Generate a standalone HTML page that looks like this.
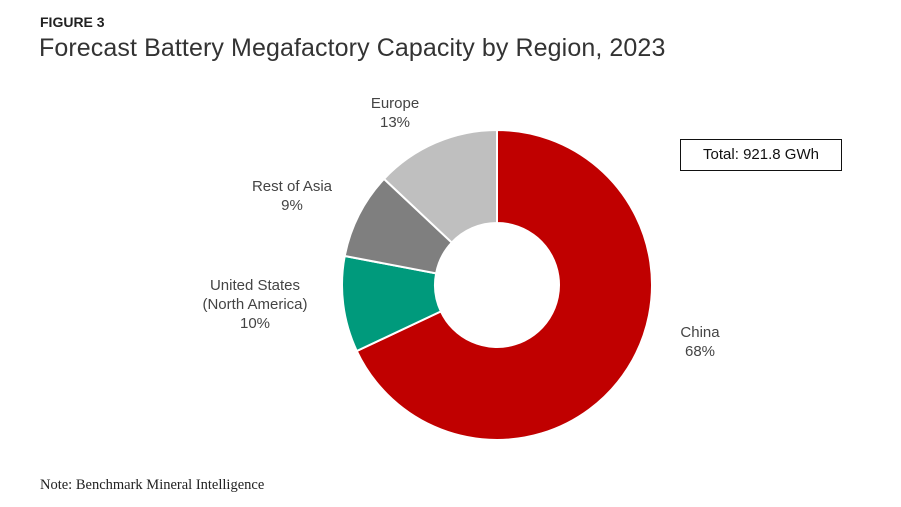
<!DOCTYPE html>
<html><head><meta charset="utf-8">
<style>
body{margin:0;background:#fff;width:901px;height:507px;overflow:hidden;font-family:"Liberation Sans",sans-serif}
.fig{position:absolute;left:40px;top:14px;font-size:14px;font-weight:bold;color:#222}
.title{position:absolute;left:39px;top:34px;font-size:25px;color:#333;font-weight:300;letter-spacing:0.1px}
.note{position:absolute;left:40px;top:477px;font-size:14.5px;font-family:"Liberation Serif",serif;color:#222}
.total{position:absolute;left:680px;top:139px;width:162px;height:32px;border:1.5px solid #111;box-sizing:border-box;font-size:15px;color:#111;text-align:center;line-height:30px}
.lbl{position:absolute;font-size:15px;color:#444;text-align:center;line-height:19px}
</style></head><body>
<div class="fig">FIGURE 3</div>
<div class="title">Forecast Battery Megafactory Capacity by Region, 2023</div>
<div class="total">Total: 921.8 GWh</div>
<svg id="chart" width="901" height="507" style="position:absolute;left:0;top:0"></svg>
<div class="lbl" style="left:340px;top:94px;width:110px">Europe<br>13%</div>
<div class="lbl" style="left:232px;top:177px;width:120px">Rest of Asia<br>9%</div>
<div class="lbl" style="left:185px;top:276px;width:140px">United States<br>(North America)<br>10%</div>
<div class="lbl" style="left:660px;top:323px;width:80px">China<br>68%</div>
<div class="note">Note: Benchmark Mineral Intelligence</div>
<script>
const categories=["China","United States","Rest of Asia","Europe"];
const values=[68,10,9,13];
const colors=["#c00000","#009a7c","#7f7f7f","#bfbfbf"];
const svg=document.getElementById('chart');
const cx=497,cy=285,R=155,r=62;
const total=values.reduce((a,b)=>a+b,0);
let a0=0;
function pt(rad,a){return [cx+rad*Math.sin(a),cy-rad*Math.cos(a)];}
values.forEach((v,i)=>{
  const a1=a0+v/total*2*Math.PI;
  const large=(a1-a0)>Math.PI?1:0;
  const [x1,y1]=pt(R,a0),[x2,y2]=pt(R,a1),[x3,y3]=pt(r,a1),[x4,y4]=pt(r,a0);
  const p=document.createElementNS("http://www.w3.org/2000/svg","path");
  p.setAttribute('d',`M${x1},${y1}A${R},${R} 0 ${large} 1 ${x2},${y2}L${x3},${y3}A${r},${r} 0 ${large} 0 ${x4},${y4}Z`);
  p.setAttribute('fill',colors[i]);
  p.setAttribute('stroke','#fff');
  p.setAttribute('stroke-width','2');
  
  
  svg.appendChild(p);
  a0=a1;
});
</script>
</body></html>
